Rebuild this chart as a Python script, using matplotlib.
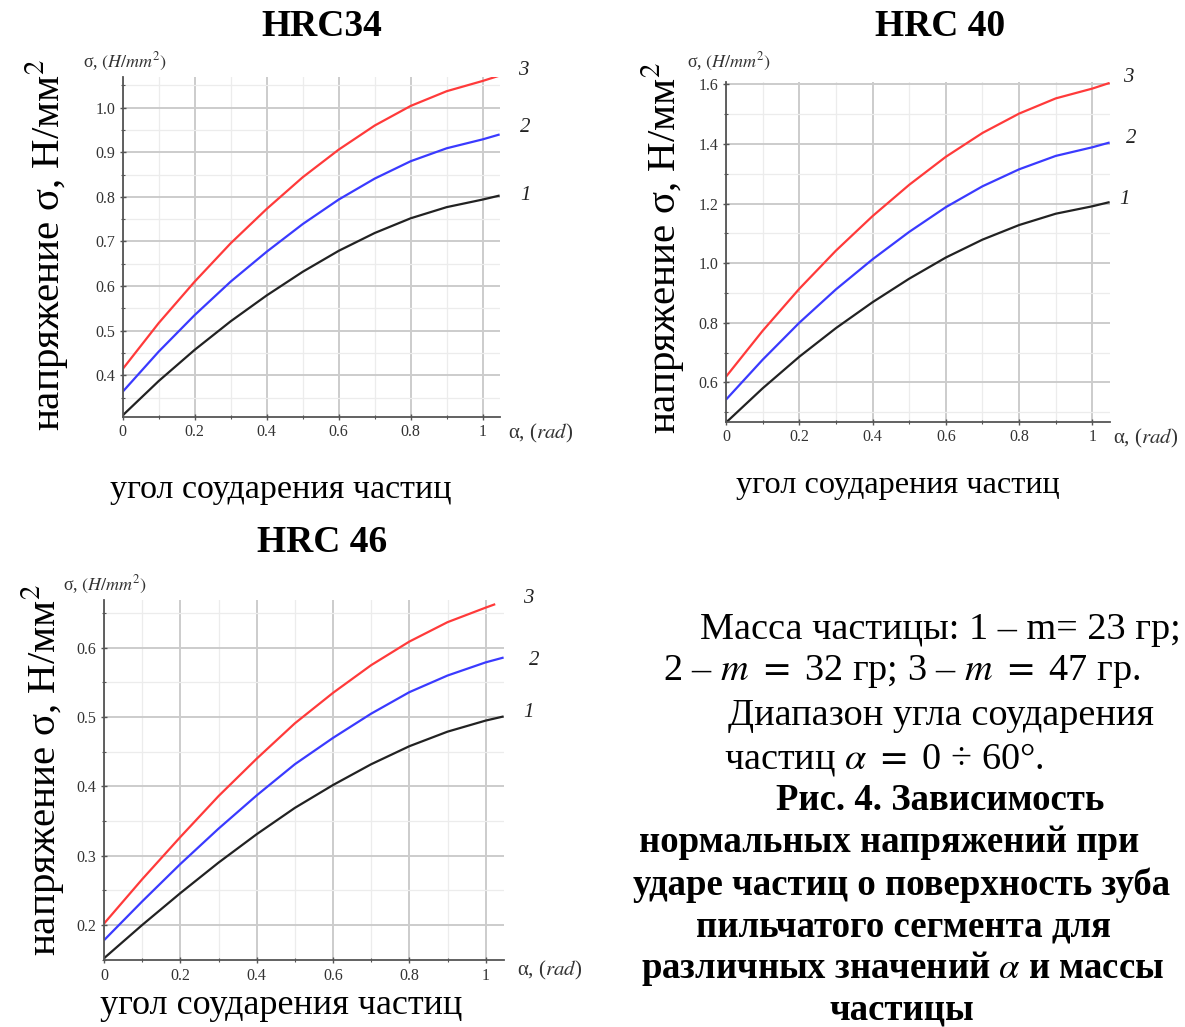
import matplotlib
matplotlib.use("Agg")
import matplotlib.pyplot as plt
from matplotlib.ticker import MultipleLocator, FormatStrFormatter

plt.rcParams['font.family'] = ['Liberation Serif', 'DejaVu Serif']
plt.rcParams['mathtext.fontset'] = 'stix'

# ---------------- data ----------------
alpha = [0.0, 0.1, 0.2, 0.3, 0.4, 0.5, 0.6, 0.7, 0.8, 0.9, 1.0, 1.047]
alpha_red3 = [0.0, 0.1, 0.2, 0.3, 0.4, 0.5, 0.6, 0.7, 0.8, 0.9, 1.0, 1.025]

# HRC34
hrc34_1 = [0.310, 0.387, 0.457, 0.521, 0.579, 0.632, 0.679, 0.719, 0.752, 0.777, 0.794, 0.803]
hrc34_2 = [0.363, 0.453, 0.535, 0.610, 0.677, 0.739, 0.794, 0.841, 0.880, 0.909, 0.929, 0.940]
hrc34_3 = [0.414, 0.517, 0.610, 0.696, 0.773, 0.844, 0.906, 0.960, 1.004, 1.037, 1.060, 1.072]
# HRC 40
hrc40_1 = [0.465, 0.580, 0.686, 0.782, 0.869, 0.948, 1.019, 1.079, 1.128, 1.166, 1.191, 1.205]
hrc40_2 = [0.542, 0.676, 0.800, 0.912, 1.013, 1.105, 1.188, 1.258, 1.315, 1.360, 1.389, 1.405]
hrc40_3 = [0.619, 0.773, 0.914, 1.042, 1.158, 1.263, 1.357, 1.437, 1.502, 1.553, 1.586, 1.605]
# HRC 46
hrc46_1 = [0.152, 0.200, 0.246, 0.290, 0.331, 0.369, 0.402, 0.432, 0.458, 0.479, 0.495, 0.501]
hrc46_2 = [0.178, 0.234, 0.288, 0.339, 0.387, 0.432, 0.470, 0.505, 0.536, 0.560, 0.579, 0.586]
hrc46_3 = [0.202, 0.266, 0.327, 0.386, 0.440, 0.491, 0.535, 0.575, 0.609, 0.637, 0.658, 0.663]

titles = ["HRC34", "HRC 40", "HRC 46"]
curve_labels = ["1", "2", "3"]
xlabel_text = "угол соударения частиц"
ylabel_text = "напряжение σ, Н/мм$^2$"
x_ticks = [0, 0.2, 0.4, 0.6, 0.8, 1.0]
x_ticklabels = ["0", "0.2", "0.4", "0.6", "0.8", "1"]

caption_lines = [
    "Масса частицы: 1 – m= 23 гр;",
    "2 – $m$ $=$ 32 гр; 3 – $m$ $=$ 47 гр.",
    "Диапазон угла соударения",
    "частиц $\\alpha$ $=$ 0 ÷ 60°.",
]
caption_bold = [
    "Рис. 4. Зависимость",
    "нормальных напряжений при",
    "ударе частиц о поверхность зуба",
    "пильчатого сегмента для",
    "различных значений $\\alpha$ и массы",
    "частицы",
]

W, H = 1185, 1027
fig = plt.figure(figsize=(W / 100, H / 100), dpi=100)
fig.patch.set_facecolor('white')


def fx(px):
    return px / W


def fy(py):
    return 1 - py / H


def make_axes(left, top, right, bottom):
    return fig.add_axes([fx(left), fy(bottom), fx(right) - fx(left), (bottom - top) / H])


panels = [
    dict(box=(122.7, 76.7, 500, 416.7), ylim=(0.307, 1.0695), major=0.1, minor=0.05, fmt='%.1f',
         ys=[hrc34_1, hrc34_2, hrc34_3], xr=alpha,
         title=(322, 27), corner=(83, 62), xr_lab=(508, 433), ylab=(47, 245), xlab=(281, 490),
         xlab_size=24.5, lab_off=[(15, 0), (15, 5), (13, 4)]),
    dict(box=(726, 81.7, 1110, 421.7), ylim=(0.468, 1.609), major=0.2, minor=0.1, fmt='%.1f',
         ys=[hrc40_1, hrc40_2, hrc40_3], xr=alpha,
         title=(940, 27), corner=(687, 62), xr_lab=(1113, 438), ylab=(663, 248), xlab=(898, 485),
         xlab_size=23.2, lab_off=[(7, 2), (12, 3), (10, 4)]),
    dict(box=(104, 600, 504, 960), ylim=(0.1495, 0.669), major=0.1, minor=0.05, fmt='%.1f',
         ys=[hrc46_1, hrc46_2, hrc46_3], xr=alpha_red3,
         title=(322, 542), corner=(63, 585), xr_lab=(517, 970), ylab=(43, 770), xlab=(281, 1005),
         xlab_size=26, lab_off=[(14, 3), (18, -2), (20, 4)]),
]

colors = ['#222222', '#3a3aff', '#ff3a3a']

for i, p in enumerate(panels):
    ax = make_axes(*p['box'])
    ax.set_xlim(0, 1.048)
    ax.set_ylim(*p['ylim'])
    for s in ['top', 'right']:
        ax.spines[s].set_visible(False)
    for s in ['left', 'bottom']:
        ax.spines[s].set_color('#555555')
        ax.spines[s].set_linewidth(1.3)
    ax.xaxis.set_major_locator(MultipleLocator(0.2))
    ax.xaxis.set_minor_locator(MultipleLocator(0.1))
    ax.set_xticks(x_ticks)
    ax.set_xticklabels(x_ticklabels)
    ax.yaxis.set_major_locator(MultipleLocator(p['major']))
    ax.yaxis.set_minor_locator(MultipleLocator(p['minor']))
    ax.yaxis.set_major_formatter(FormatStrFormatter(p['fmt']))
    ax.tick_params(which='major', direction='inout', length=5, width=1.0, color='#555555',
                   labelsize=11.5, labelcolor='#333333', pad=3)
    ax.tick_params(which='minor', direction='inout', length=3, width=0.8, color='#555555')
    ax.grid(which='major', color='#cccccc', linewidth=1.4)
    ax.grid(which='minor', color='#ececec', linewidth=0.9)
    ax.set_axisbelow(True)

    xs_list = [alpha, alpha, p['xr']]
    for k in range(3):
        ax.plot(xs_list[k], p['ys'][k], color=colors[k], lw=1.6, solid_capstyle='butt')
        ax.annotate(curve_labels[k], xy=(xs_list[k][-1], p['ys'][k][-1]),
                    xytext=p['lab_off'][k], textcoords='offset points',
                    fontsize=15, style='italic', color='#222222', va='center', ha='left',
                    annotation_clip=False)

    fig.text(fx(p['title'][0]), fy(p['title'][1]), titles[i], fontsize=27, fontweight='bold',
             ha='center', va='center')
    fig.text(fx(p['corner'][0]), fy(p['corner'][1]), r"σ, $(\mathit{H/mm}^{2})$", fontsize=13,
             ha='left', va='center', color='#333333')
    fig.text(fx(p['xr_lab'][0]), fy(p['xr_lab'][1]), r"α, ($\mathit{rad}$)", fontsize=15,
             ha='left', va='center', color='#333333')
    fig.text(fx(p['ylab'][0]), fy(p['ylab'][1]), ylabel_text, fontsize=29.5, rotation=90,
             ha='center', va='center')
    fig.text(fx(p['xlab'][0]), fy(p['xlab'][1]), xlabel_text, fontsize=p['xlab_size'],
             ha='center', va='center')

# caption block
cap_pos = [(940, 630), (902, 672), (941, 716), (884, 760)]
for (x, y), t in zip(cap_pos, caption_lines):
    fig.text(fx(x), fy(y), t, fontsize=27.5, ha='center', va='center')
bold_pos = [(940, 801), (889, 843), (902, 885), (903, 927), (903, 968)]
for (x, y), t in zip(bold_pos, caption_bold[:-1]):
    fig.text(fx(x), fy(y), t, fontsize=26.5, fontweight='bold', ha='center', va='center')
fig.text(fx(902), fy(1020), caption_bold[-1], fontsize=26.5, fontweight='bold',
         ha='center', va='baseline')

fig.savefig('out.png', dpi=100, facecolor='white')
